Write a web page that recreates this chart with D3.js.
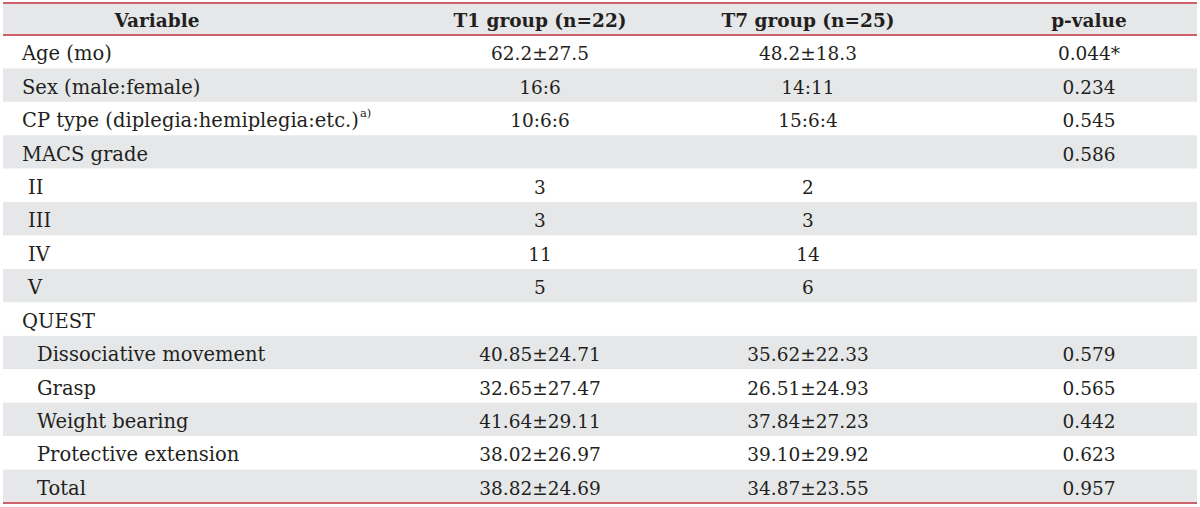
<!DOCTYPE html>
<html><head><meta charset="utf-8">
<script src="https://cdn.jsdelivr.net/npm/d3@7"></script>
<style>html,body{margin:0;padding:0;background:#fff;}svg{display:block;}</style>
</head><body>
<svg id="c" width="1200" height="507"></svg>
<script>
const headers = ["Variable", "T1 group (n=22)", "T7 group (n=25)", "p-value"];
const variables = ["Age (mo)", "Sex (male:female)", "CP type (diplegia:hemiplegia:etc.)", "MACS grade", "II", "III", "IV", "V", "QUEST", "Dissociative movement", "Grasp", "Weight bearing", "Protective extension", "Total"];
const indentLevels = [0, 0, 0, 0, 1, 1, 1, 1, 0, 2, 2, 2, 2, 2];
const superscripts = ["", "", "a)", "", "", "", "", "", "", "", "", "", "", ""];
const t1Values = ["62.2±27.5", "16:6", "10:6:6", "", "3", "3", "11", "5", "", "40.85±24.71", "32.65±27.47", "41.64±29.11", "38.02±26.97", "38.82±24.69"];
const t7Values = ["48.2±18.3", "14:11", "15:6:4", "", "2", "3", "14", "6", "", "35.62±22.33", "26.51±24.93", "37.84±27.23", "39.10±29.92", "34.87±23.55"];
const pValues = ["0.044*", "0.234", "0.545", "0.586", "", "", "", "", "", "0.579", "0.565", "0.442", "0.623", "0.957"];

(function(){
const svg = d3.select("#c");
const x0 = 3, x1 = 1197, yTop = 3, headerBottom = 35, yBottom = 503;
const font = "'DejaVu Serif', serif";
const labelFs = 19.5, numFs = 18.5, headFs = 18.5;
const red = "#d0606a", grey = "#e6e7e8", textCol = "#231f20";

const colCenters = [157, 540, 808, 1089];
const indentX = d3.scaleOrdinal().domain([0,1,2]).range([22, 28, 37]);

const y = d3.scaleBand().domain(d3.range(variables.length)).range([headerBottom, yBottom]).paddingInner(0).paddingOuter(0);
const baseOff = 8.5;

svg.append("rect").attr("x", x0).attr("y", yTop).attr("width", x1-x0).attr("height", headerBottom-yTop).attr("fill", grey);

svg.selectAll("rect.row").data(variables).join("rect")
  .attr("class","row")
  .attr("x", x0).attr("y", (d,i)=>y(i)).attr("width", x1-x0).attr("height", y.bandwidth())
  .attr("fill", (d,i)=> i%2===1 ? grey : "#ffffff");

svg.selectAll("text.h").data(headers).join("text")
  .attr("class","h")
  .attr("x", (d,i)=>colCenters[i]).attr("y", (yTop+headerBottom)/2 + 7.5)
  .attr("text-anchor","middle")
  .attr("font-family", font).attr("font-weight","bold").attr("font-size", headFs).attr("fill", textCol)
  .text(d=>d);

const vt = svg.selectAll("text.v").data(variables).join("text")
  .attr("class","v")
  .attr("x", (d,i)=>indentX(indentLevels[i])).attr("y", (d,i)=>y(i)+y.bandwidth()/2 + baseOff)
  .attr("font-family", font).attr("font-size", labelFs).attr("fill", textCol);
vt.append("tspan").text(d=>d);
vt.filter((d,i)=>superscripts[i]).append("tspan")
  .attr("font-size", 11.5).attr("dy", -10).attr("dx", 1)
  .text(d=>superscripts[variables.indexOf(d)]);

const cols = [t1Values, t7Values, pValues];
cols.forEach((arr, ci) => {
  svg.selectAll("text.c"+ci).data(arr).join("text")
    .attr("class","c"+ci)
    .attr("x", colCenters[ci+1]).attr("y", (d,i)=>y(i)+y.bandwidth()/2 + baseOff)
    .attr("text-anchor","middle")
    .attr("font-family", font).attr("font-size", numFs).attr("fill", textCol)
    .text(d=>d);
});

[[yTop, 2], [headerBottom, 2], [yBottom, 2]].forEach(([yy, w]) => {
  svg.append("line").attr("x1", x0).attr("x2", x1).attr("y1", yy).attr("y2", yy)
    .attr("stroke", red).attr("stroke-width", w);
});
})();
</script>
</body></html>
